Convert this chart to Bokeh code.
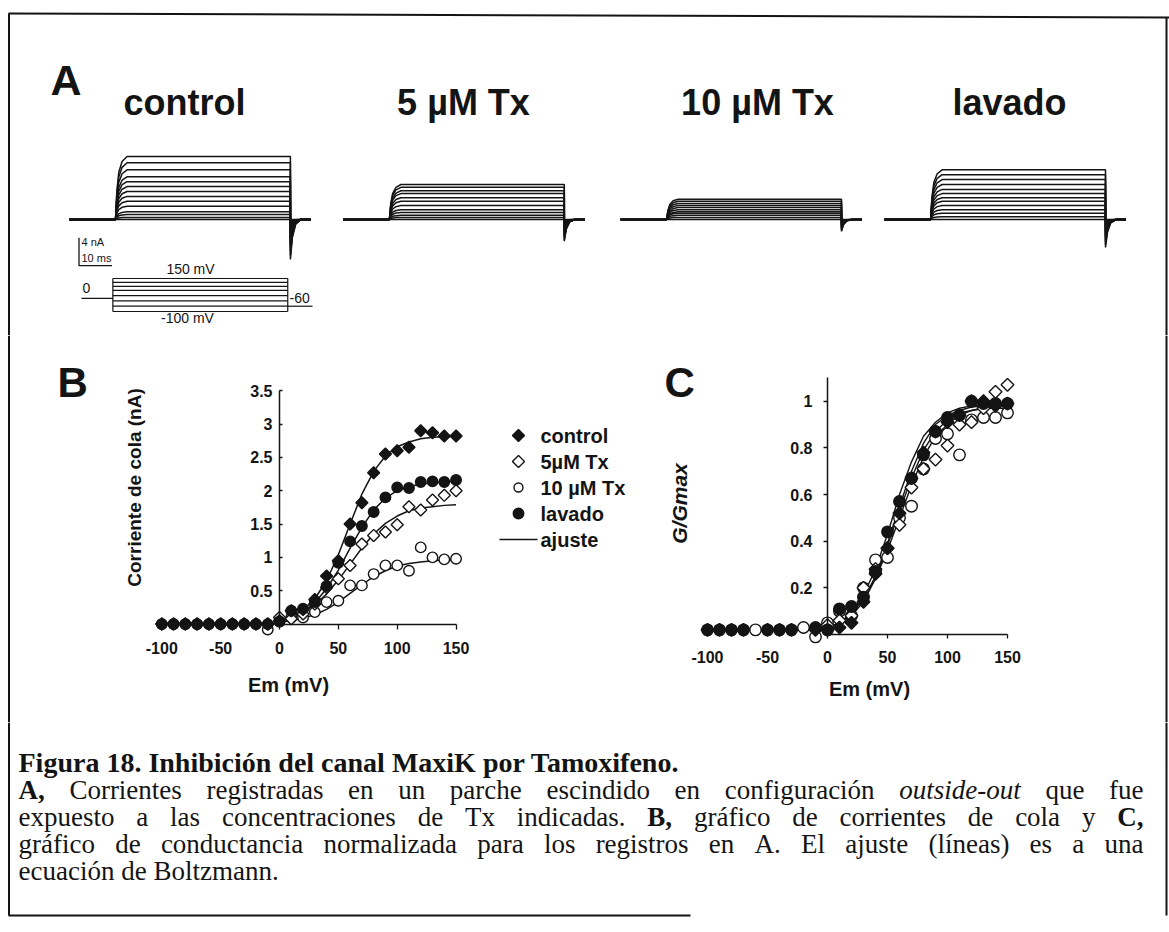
import math
from bokeh.plotting import figure
from bokeh.models import Range1d, LinearAxis, FixedTicker, NumeralTickFormatter, Label
from bokeh.layouts import column, row
from bokeh.embed import file_html
from bokeh.resources import INLINE
from bokeh.core.properties import value

SANS = "Liberation Sans"
SERIF = "Liberation Serif"
INK = "#141414"

# ============================ DATA ============================
# ---- Panel A: current families (steady-state amplitude of each trace, nA)
A_LABELS = ["control", "5 µM Tx", "10 µM Tx", "lavado"]
AMP_CONTROL = [9.0, 8.1, 7.1, 6.1, 5.4, 4.7, 4.0, 3.3, 2.6, 1.9, 1.1, 0.7, 0.3, 0.0]
AMP_TX5 = [5.0, 4.6, 4.1, 3.7, 3.1, 2.6, 2.0, 1.4, 1.0, 0.6, 0.3, 0.0]
AMP_TX10 = [2.9, 2.6, 2.3, 2.0, 1.7, 1.4, 1.1, 0.9, 0.6, 0.3, 0.0]
AMP_LAVADO = [7.1, 6.4, 5.7, 5.0, 4.3, 3.7, 3.1, 2.6, 2.0, 1.4, 0.9, 0.4, 0.0]
TAIL_PEAK_NA = [5.7, 3.1, 1.7, 4.0]          # inward tail of the largest trace
PULSE_MS = 53
STEP_MV = [150, 120, 90, 60, 20, -20, -60, -100]
HOLD_MV = 0
TAIL_MV = -60
SCALE_NA = 4
SCALE_MS = 10

# ---- Panel B: tail current (nA) vs Em (mV)
EM_MV = [-100, -90, -80, -70, -60, -50, -40, -30, -20, -10, 0, 10, 20, 30, 40, 50,
         60, 70, 80, 90, 100, 110, 120, 130, 140, 150]
IB_CONTROL = [0, 0, 0, 0, 0, 0, 0, 0, 0, 0, 0.05, 0.2, 0.22, 0.37, 0.72, 0.95,
              1.5, 1.82, 2.27, 2.55, 2.6, 2.65, 2.9, 2.87, 2.82, 2.82]
IB_TX5 = [0, 0, 0, 0, 0, 0, 0, 0, 0, 0, 0.1, 0.08, 0.15, 0.3, 0.55, 0.68,
          0.88, 1.2, 1.33, 1.38, 1.49, 1.76, 1.71, 1.86, 1.93, 2.0]
IB_TX10 = [0, 0, 0, 0, 0, 0, 0, 0, 0, -0.08, 0.04, 0.1, 0.1, 0.18, 0.33, 0.35,
           0.58, 0.58, 0.75, 0.88, 0.88, 0.8, 1.15, 1.0, 0.97, 0.98]
IB_LAVADO = [0, 0, 0, 0, 0, 0, 0, 0, 0, 0, 0.04, 0.2, 0.23, 0.33, 0.57, 0.92,
             1.24, 1.47, 1.68, 1.9, 2.05, 2.04, 2.13, 2.14, 2.13, 2.16]
FIT_MV = [0, 10, 20, 30, 40, 50, 60, 70, 80, 90, 100, 110, 120, 130, 140, 150]
FITB_CONTROL = [0.06, 0.11, 0.21, 0.38, 0.65, 1.04, 1.5, 1.95, 2.29, 2.52, 2.66, 2.73, 2.78, 2.8, 2.81, 2.82]
FITB_TX5 = [0.06, 0.1, 0.18, 0.29, 0.45, 0.66, 0.9, 1.14, 1.35, 1.51, 1.62, 1.7, 1.74, 1.76, 1.78, 1.79]
FITB_TX10 = [0.03, 0.05, 0.09, 0.14, 0.22, 0.33, 0.46, 0.59, 0.71, 0.8, 0.87, 0.91, 0.93, 0.95, 0.96, 0.96]
FITB_LAVADO = [0.06, 0.1, 0.18, 0.32, 0.53, 0.81, 1.14, 1.45, 1.71, 1.89, 2.0, 2.06, 2.1, 2.12, 2.13, 2.14]
LEGEND_LABELS = ["control", "5µM Tx", "10 µM Tx", "lavado", "ajuste"]

# ---- Panel C: normalised conductance vs Em (mV)
GC_X_FILLED = [-100, -90, -80, -70, -50, -40, -30, -10, 0, 10, 20, 30, 40, 50, 60, 70,
               80, 90, 100, 110, 120, 130, 140, 150]
GC_CONTROL = [0.02, 0.02, 0.02, 0.02, 0.02, 0.02, 0.02, 0.02, 0.02, 0.03, 0.05, 0.14, 0.26, 0.37,
              0.52, 0.67, 0.78, 0.87, 0.91, 0.94, 1.0, 1.0, 0.98, 0.99]
GC_LAVADO = [0.02, 0.02, 0.02, 0.02, 0.02, 0.02, 0.02, 0.03, 0.02, 0.11, 0.12, 0.16, 0.27, 0.44,
             0.57, 0.67, 0.77, 0.87, 0.93, 0.94, 1.0, 0.99, 0.99, 0.99]
GC_X_TX5 = [0, 10, 20, 30, 40, 50, 60, 70, 80, 90, 100, 110, 120, 130, 140, 150]
GC_TX5 = [0.04, 0.06, 0.08, 0.2, 0.28, 0.37, 0.47, 0.63, 0.71, 0.75, 0.81, 0.9, 0.91, 0.97, 1.04, 1.07]
GC_X_TX10 = [-60, -20, -10, 0, 10, 20, 30, 40, 50, 60, 70, 80, 90, 100, 110, 120, 130, 140, 150]
GC_TX10 = [0.02, 0.03, -0.01, 0.05, 0.1, 0.08, 0.2, 0.32, 0.33, 0.5, 0.55, 0.71, 0.84, 0.86,
           0.77, 0.92, 0.93, 0.93, 0.95]
FITC_CONTROL = [0.02, 0.04, 0.08, 0.14, 0.24, 0.39, 0.55, 0.7, 0.82, 0.9, 0.94, 0.96, 0.975, 0.98, 0.985, 0.99]
FITC_TX5 = [0.03, 0.05, 0.09, 0.15, 0.24, 0.36, 0.5, 0.64, 0.76, 0.85, 0.9, 0.94, 0.96, 0.97, 0.98, 0.98]
FITC_TX10 = [0.03, 0.05, 0.09, 0.15, 0.25, 0.38, 0.53, 0.67, 0.79, 0.87, 0.92, 0.95, 0.96, 0.97, 0.97, 0.97]
FITC_LAVADO = [0.03, 0.05, 0.09, 0.17, 0.28, 0.43, 0.6, 0.74, 0.85, 0.91, 0.95, 0.97, 0.98, 0.985, 0.99, 0.99]

# ---- Caption
CAP_TITLE = "Figura 18. Inhibición del canal MaxiK por Tamoxifeno."
CAP_LINES = [
    "**A,** Corrientes registradas en un parche escindido en configuración *outside-out* que fue",
    "expuesto a las concentraciones de Tx indicadas. **B,** gráfico de corrientes de cola y **C,**",
    "gráfico de conductancia normalizada para los registros en A. El ajuste (líneas) es a una",
    "ecuación de Boltzmann.",
]

# ============================ LAYOUT ============================
W = 1169
H1, H2, H3 = 335, 387, 210
ROW2_TOP = H1
CAP_TOP = H1 + H2


def base_fig(width, height, xr, yr):
    p = figure(width=width, height=height, x_range=xr, y_range=yr,
               output_backend="svg", toolbar_location=None,
               x_axis_location=None, y_axis_location=None, min_border=0,
               outline_line_color=None, background_fill_color="white",
               border_fill_color="white")
    p.grid.visible = False
    return p


def txt(p, x, y, s, size, style="normal", align="left", baseline="alphabetic", font=SANS):
    p.text(x=[x], y=[y], text=[s], text_font=value(font), text_font_size=size,
           text_font_style=style, text_align=align, text_baseline=baseline,
           text_color=INK)


# ---------------- Panel A ----------------
pa = base_fig(W, H1, Range1d(0, W), Range1d(H1, 0))
T_PX, T0_IMG = 3.3, 115.0
I_PX, I0_IMG = 7.0, 219.0
V_PX, V0_IMG = 0.132, 297.8
pa.extra_x_ranges = {"t": Range1d(-T0_IMG / T_PX, (W - T0_IMG) / T_PX)}
pa.extra_y_ranges = {"i": Range1d(-(H1 - I0_IMG) / I_PX, I0_IMG / I_PX),
                     "v": Range1d(-(H1 - V0_IMG) / V_PX, V0_IMG / V_PX)}

FAM_T0 = [0, 83, 167, 247]
PRE_MS, POST_MS = 14, 6.2
for amps, tail, t0 in zip([AMP_CONTROL, AMP_TX5, AMP_TX10, AMP_LAVADO], TAIL_PEAK_NA, FAM_T0):
    amax = max(amps)
    xs, ys = [], []
    te = t0 + PULSE_MS
    for a in amps:
        s = tail * a / amax
        xs.append([t0 - PRE_MS, t0, t0 + 0.4, t0 + 1.0, t0 + 2.0, t0 + 3.5, te, te,
                   te + 0.6, te + 1.6, te + 3.2, te + POST_MS])
        ys.append([0, 0, 0.45 * a, 0.75 * a, 0.92 * a, a, a, -s, -0.45 * s, -0.12 * s, 0, 0])
    pa.multi_line(xs, ys, x_range_name="t", y_range_name="i", line_color=INK, line_width=1.5)

# scale bar
SB_T, SB_I = -11.06, -6.6
pa.line([SB_T, SB_T, SB_T + SCALE_MS], [SB_I + SCALE_NA, SB_I, SB_I],
        x_range_name="t", y_range_name="i", line_color=INK, line_width=1.3)
txt(pa, 81, 241, f"{SCALE_NA} nA", "11px", baseline="middle")
txt(pa, 81, 257, f"{SCALE_MS} ms", "11px", baseline="middle")

# voltage protocol
PT0, PRE_P, POST_P = -0.8, 9.5, 7.5
pxs = [[PT0, PT0 + PULSE_MS] for _ in STEP_MV]
pys = [[v, v] for v in STEP_MV]
pxs += [[PT0, PT0], [PT0 + PULSE_MS, PT0 + PULSE_MS],
        [PT0 - PRE_P, PT0], [PT0 + PULSE_MS, PT0 + PULSE_MS + POST_P]]
pys += [[min(STEP_MV), max(STEP_MV)], [min(STEP_MV), max(STEP_MV)],
        [HOLD_MV, HOLD_MV], [TAIL_MV, TAIL_MV]]
pa.multi_line(pxs, pys, x_range_name="t", y_range_name="v", line_color=INK, line_width=1.2)
txt(pa, 190, 268, f"{max(STEP_MV)} mV", "14px", align="center", baseline="middle")
txt(pa, 86, 287, f"{HOLD_MV}", "14px", align="center", baseline="middle")
txt(pa, 289, 297, f"{TAIL_MV}", "14px", baseline="middle")
txt(pa, 187, 317, f"{min(STEP_MV)} mV", "14px", align="center", baseline="middle")

# titles
txt(pa, 50, 79, "A", "43px", "bold")
for s, cx_ in zip(A_LABELS, [184, 463, 757, 1009]):
    txt(pa, cx_, 102, s, "36px", "bold", align="center")

# frame border
pa.line([8, W], [13, 17], line_color=INK, line_width=2)
pa.line([8.5, 8.5], [13, H1], line_color=INK, line_width=2)
pa.line([1166, 1166], [17, H1], line_color=INK, line_width=2)


# ---------------- axes helper ----------------
def make_axis(ticks, bounds, fmt, tick_in, tick_out, standoff, show_line=True):
    ax = LinearAxis(fixed_location=0, bounds=bounds, ticker=FixedTicker(ticks=ticks),
                    formatter=NumeralTickFormatter(format=fmt))
    ax.axis_line_color = INK
    ax.axis_line_width = 1.5
    ax.axis_line_alpha = 1 if show_line else 0
    ax.major_tick_line_color = INK
    ax.major_tick_line_width = 1.3
    ax.major_tick_line_alpha = 1 if show_line else 0
    ax.major_tick_in = tick_in
    ax.major_tick_out = tick_out
    ax.minor_tick_line_color = None
    ax.major_label_standoff = standoff
    ax.major_label_text_font = SANS
    ax.major_label_text_font_style = "bold"
    ax.major_label_text_font_size = "16px"
    ax.major_label_text_color = INK
    return ax


def lab(p, x, y, s, size, style="bold", angle=0.0, align="center", baseline="middle"):
    p.add_layout(Label(x=x, y=y, text=s, angle=angle, text_font=SANS, text_font_size=size,
                       text_font_style=style, text_align=align, text_baseline=baseline,
                       text_color=INK))


FRAME_T = ROW2_TOP
FRAME_B = ROW2_TOP + H2

# ---------------- Panel B ----------------
B_L, WB = 10, 635
B_X0, B_XPX = 279.0, 1.177
B_Y0, B_YPX = 623.6, 66.7


def bx(ix):
    return (ix - B_X0) / B_XPX


def by(iy):
    return (B_Y0 - iy) / B_YPX


pb = base_fig(WB, H2, Range1d(bx(B_L), bx(B_L + WB)), Range1d(by(FRAME_B), by(FRAME_T)))
pb.add_layout(make_axis([0, 50, 100, 150], (0, 150), "0", 0, 5, 13), "below")
pb.add_layout(make_axis([-100, -50], (-100, -50), "0", 0, 5, 13, show_line=False), "below")
pb.add_layout(make_axis([0.5, 1, 1.5, 2, 2.5, 3, 3.5], (0, 3.5), "0.[0]", 3, 0, 7), "left")

pb.multi_line([FIT_MV] * 4, [FITB_CONTROL, FITB_TX5, FITB_TX10, FITB_LAVADO],
              line_color=INK, line_width=1.5)
mk = dict(line_color=INK, line_width=1.4)
STY_TX10 = dict(marker="circle", size=10.5, fill_color="white", **mk)
STY_TX5 = dict(marker="square", angle=math.pi / 4, size=8.5, fill_color="white", **mk)
STY_LAV = dict(marker="circle", size=10.5, fill_color=INK, **mk)
STY_CTL = dict(marker="square", angle=math.pi / 4, size=8.5, fill_color=INK, **mk)
pb.scatter(EM_MV, IB_TX10, **STY_TX10)
pb.scatter(EM_MV, IB_TX5, **STY_TX5)
pb.scatter(EM_MV, IB_LAVADO, **STY_LAV)
pb.scatter(EM_MV, IB_CONTROL, **STY_CTL)

# legend (drawn with the same glyph styles)
LEG_Y = [435, 461, 487, 513, 539]
LEG_MX, LEG_L0, LEG_L1, LEG_TX = 518, 499, 537, 540
for sty, yy in zip([STY_CTL, STY_TX5, dict(STY_TX10, size=9), STY_LAV], LEG_Y[:4]):
    pb.scatter([bx(LEG_MX)], [by(yy)], **sty)
pb.line([bx(LEG_L0), bx(LEG_L1)], [by(LEG_Y[4])] * 2, line_color=INK, line_width=1.5)
pb.text(x=[bx(LEG_TX)] * 5, y=[by(v) for v in LEG_Y], text=LEGEND_LABELS,
        text_font=value(SANS), text_font_size="20px", text_font_style="bold",
        text_align="left", text_baseline="middle", text_color=INK)

lab(pb, bx(57), by(382), "B", "42px", align="left", baseline="alphabetic")
lab(pb, bx(134), by(487), "Corriente de cola (nA)", "19px", angle=math.pi / 2)
lab(pb, bx(288), by(684), "Em (mV)", "20px")

# ---------------- Panel C ----------------
C_L, WC = B_L + WB, 514
C_X0, C_XPX = 827.0, 1.2
C_Y0, C_YPX = 634.0, 233.3


def cx(ix):
    return (ix - C_X0) / C_XPX


def cy(iy):
    return (C_Y0 - iy) / C_YPX


pcf = base_fig(WC, H2, Range1d(cx(C_L), cx(C_L + WC)), Range1d(cy(FRAME_B), cy(FRAME_T)))
pcf.add_layout(make_axis([0, 50, 100, 150], (0, 150), "0", 0, 4, 12), "below")
pcf.add_layout(make_axis([-100, -50], (-100, -50), "0", 0, 4, 12, show_line=False), "below")
pcf.add_layout(make_axis([0.2, 0.4, 0.6, 0.8, 1.0], (0, 1.1), "0.[0]", 0, 4, 11), "left")

pcf.multi_line([FIT_MV] * 4, [FITC_CONTROL, FITC_TX5, FITC_TX10, FITC_LAVADO],
               line_color=INK, line_width=1.4)
pcf.scatter(GC_X_TX10, GC_TX10, **dict(STY_TX10, size=11.5))
pcf.scatter(GC_X_TX5, GC_TX5, **dict(STY_TX5, size=9))
pcf.scatter(GC_X_FILLED, GC_LAVADO, **dict(STY_LAV, size=11.5))
pcf.scatter(GC_X_FILLED, GC_CONTROL, **dict(STY_CTL, size=9))

lab(pcf, cx(664), cy(382), "C", "42px", align="left", baseline="alphabetic")
lab(pcf, cx(679), cy(503), "G/Gmax", "21px", style="bold italic", angle=math.pi / 2)
lab(pcf, cx(869), cy(688), "Em (mV)", "20px")

# ---------------- side strips (frame border for row 2) ----------------
sL = base_fig(B_L, H2, Range1d(0, B_L), Range1d(H2, 0))
sL.line([8.5, 8.5], [0, H2], line_color=INK, line_width=2)
SR_L = C_L + WC
sR = base_fig(W - SR_L, H2, Range1d(SR_L, W), Range1d(H2, 0))
sR.line([1166, 1166], [0, H2], line_color=INK, line_width=2)

# ---------------- Caption ----------------
pcap = base_fig(W, H3, Range1d(0, W), Range1d(CAP_TOP + H3, CAP_TOP))
CAP_FS = 27
REG = {' ': 250, ',': 250, '.': 250, '-': 333, '(': 333, ')': 333,
       'A': 722, 'B': 667, 'C': 667, 'E': 611, 'T': 611, 'F': 556, 'M': 889, 'K': 722, 'I': 333,
       'a': 444, 'b': 500, 'c': 444, 'd': 500, 'e': 444, 'f': 333, 'g': 500, 'h': 500, 'i': 278,
       'j': 278, 'k': 500, 'l': 278, 'm': 778, 'n': 500, 'o': 500, 'p': 500, 'q': 500, 'r': 333,
       's': 389, 't': 278, 'u': 500, 'v': 500, 'w': 722, 'x': 500, 'y': 500, 'z': 444,
       'á': 444, 'é': 444, 'í': 278, 'ó': 500, 'ú': 500}
BLD = {' ': 250, ',': 250, '.': 250, 'A': 722, 'B': 667, 'C': 722}


def tw(word, style):
    tab = BLD if style == "bold" else REG
    return sum(tab.get(ch, REG.get(ch, 500)) for ch in word) * CAP_FS / 1000.0


X0, X1 = 18, 1143
bases = [789, 816, 843, 870]
groups = {"normal": ([], [], []), "bold": ([], [], []), "italic": ([], [], [])}
for li, (line, yb) in enumerate(zip(CAP_LINES, bases)):
    words = []
    for tok in line.split(" "):
        if tok.startswith("**"):
            words.append((tok.strip("*"), "bold"))
        elif tok.startswith("*"):
            words.append((tok.strip("*"), "italic"))
        else:
            words.append((tok, "normal"))
    widths = [tw(w, s) for w, s in words]
    justify = li < len(CAP_LINES) - 1
    gap = (X1 - X0 - sum(widths)) / (len(words) - 1) if justify else 0.25 * CAP_FS
    x = X0
    for (w, s), wd in zip(words, widths):
        g = groups[s]
        g[0].append(x); g[1].append(yb); g[2].append(w)
        x += wd + gap
for style, (gx, gy, gt) in groups.items():
    if gt:
        pcap.text(x=gx, y=gy, text=gt, text_font=value(SERIF), text_font_size=f"{CAP_FS}px",
                  text_font_style=style, text_align="left", text_baseline="alphabetic",
                  text_color=INK)
pcap.text(x=[X0], y=[762], text=[CAP_TITLE], text_font=value(SERIF), text_font_size="28px",
          text_font_style="bold", text_align="left", text_baseline="alphabetic", text_color=INK)

pcap.line([8.5, 8.5], [CAP_TOP, 915], line_color=INK, line_width=2)
pcap.line([1166, 1166], [CAP_TOP, 915], line_color=INK, line_width=2)
pcap.line([8, 690], [915, 915], line_color=INK, line_width=2)

layout = column(pa, row(sL, pb, pcf, sR), pcap)
open("out.html", "w").write(file_html(layout, INLINE))
